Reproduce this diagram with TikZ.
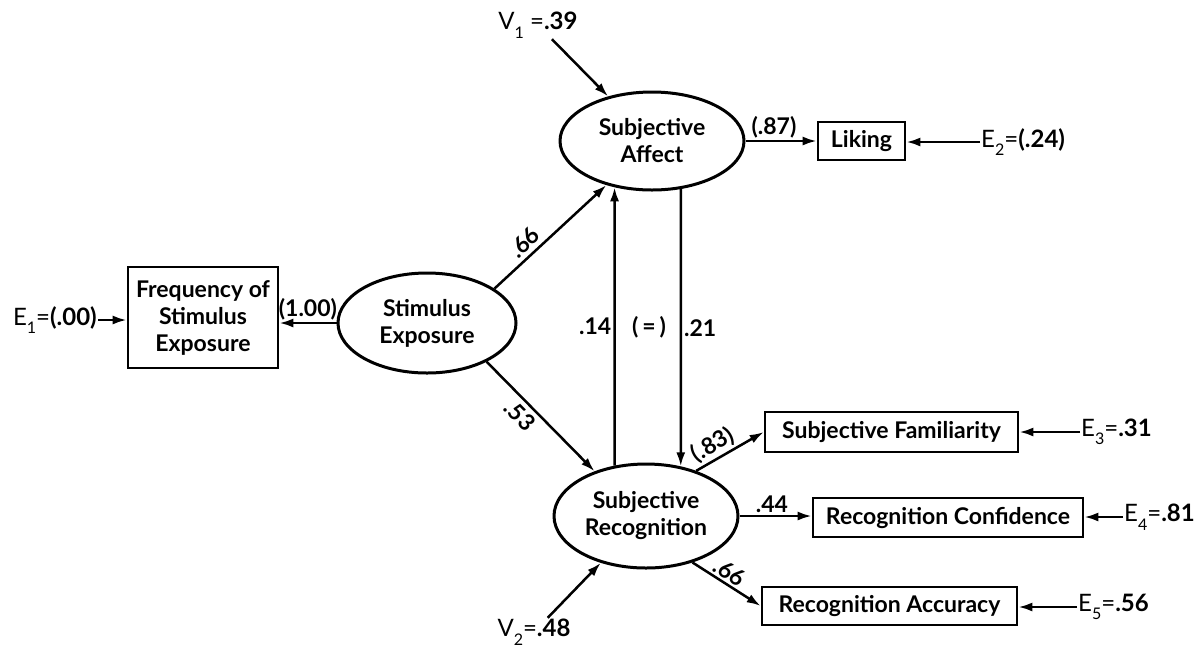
\documentclass[tikz,border=0pt]{standalone}
\usepackage{fontspec}
\setmainfont{Lato}
\usetikzlibrary{arrows.meta,shapes.geometric,calc}

% lowered subscript for the error-term labels
\newcommand\sbs[1]{\raisebox{-0.7ex}{\fontsize{16}{16}\selectfont #1}}

\begin{document}
\begin{tikzpicture}[x=1pt,y=-1pt,
  every node/.style={font=\fontsize{23}{27}\selectfont\bfseries},
  latent/.style={ellipse, draw, line width=3pt, inner sep=0pt, align=center},
  manifest/.style={rectangle, draw, line width=2.6pt, inner sep=0pt, align=center},
  pathto/.style={line width=2.5pt, -{Latex[length=14pt,width=9pt]}},
  coef/.style={font=\fontsize{23}{23}\selectfont\bfseries, inner sep=4pt},
  errlab/.style={inner sep=1pt, font=\fontsize{24}{24}\selectfont}]
\useasboundingbox (0,0) rectangle (1201,649);
\fill[white] (0,0) rectangle (1201,649);

% latent variables
\node[latent, minimum width=178, minimum height=100] (stim) at (427,323) {Stimulus\\Exposure};
\node[latent, minimum width=184, minimum height=98]  (aff)  at (652,141) {Subjective\\Affect};
\node[latent, minimum width=184, minimum height=104] (rec)  at (646,516) {Subjective\\Recognition};

% observed indicators
\node[manifest, minimum width=150, minimum height=101] (freq) at (203,317.5) {Frequency of\\Stimulus\\Exposure};
\node[manifest, minimum width=87,  minimum height=38]  (lik)  at (861.5,141) {Liking};
\node[manifest, minimum width=253, minimum height=40]  (fam)  at (891.5,432) {Subjective Familiarity};
\node[manifest, minimum width=270, minimum height=39]  (conf) at (948,517.5) {Recognition Confidence};
\node[manifest, minimum width=255, minimum height=38]  (acc)  at (889.5,606) {Recognition Accuracy};

% disturbance and error terms
\node[errlab] (v1) at (538,25) {V\sbs{1} =\textbf{.39}};
\node[errlab] (v2) at (534,632) {V\sbs{2}=\textbf{.48}};
\node[errlab, anchor=east] (e1) at (98,320)   {E\sbs{1}=\textbf{(.00)}};
\node[errlab, anchor=west] (e2) at (980,142)  {E\sbs{2}=\textbf{(.24)}};
\node[errlab, anchor=west] (e3) at (1080,432) {E\sbs{3}=\textbf{.31}};
\node[errlab, anchor=west] (e4) at (1123,517) {E\sbs{4}=\textbf{.81}};
\node[errlab, anchor=west] (e5) at (1077,607) {E\sbs{5}=\textbf{.56}};

\draw[pathto] (v1) -- (aff);
\draw[pathto] (v2) -- (rec);
\draw[pathto] (e1) -- (e1 -| freq.west);
\draw[pathto] (e2) -- (e2 -| lik.east);
\draw[pathto] (e3) -- (e3 -| fam.east);
\draw[pathto] (e4) -- (e4 -| conf.east);
\draw[pathto] (e5) -- (e5 -| acc.east);

% structural paths
\draw[pathto] (stim.west) -- (stim.west -| freq.east) node[coef, midway, above, inner sep=2pt] {(1.00)};
\draw[pathto] (stim.27) -- (aff.224) node[coef, pos=0.35, above, sloped] {.66};
\draw[pathto] (stim.327) -- (rec.139) node[coef, pos=0.4, below, sloped] {.53};
\draw[pathto] (rec.122) -- (aff.231) node[coef, midway, left, inner sep=2pt] {.14};
\draw[pathto] (aff.301) -- (rec.55) node[coef, midway, right, inner sep=2pt] {.21};
\node[coef] (eq) at ($(aff.south)!0.5!(rec.north)$) {(\,=\,)};

% measurement paths
\draw[pathto] (aff.east) -- (lik.west) node[coef, pos=0.4, above, inner sep=2pt] {(.87)};
\draw[pathto] (rec.42) -- (fam.west) node[coef, pos=0.35, above, sloped, inner sep=2pt] {(.83)};
\draw[pathto] (rec.east) -- (rec.east -| conf.west) node[coef, pos=0.45, above, inner sep=2pt] {.44};
\draw[pathto] (rec.315) -- (acc.west) node[coef, pos=0.45, above, sloped, inner sep=2pt] {.66};
\end{tikzpicture}
\end{document}
